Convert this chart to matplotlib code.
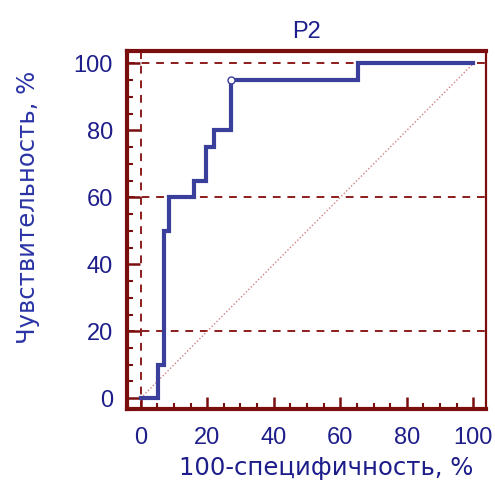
import matplotlib
matplotlib.use("Agg")
from matplotlib import pyplot as plt

# ROC curve points (100-specificity, sensitivity)
fpr = [0, 5.3, 5.3, 7.0, 7.0, 8.6, 8.6, 16.1, 16.1, 19.6, 19.6, 22.0, 22.0, 27.2, 27.2, 65.3, 65.3, 100]
tpr = [0, 0, 10, 10, 50, 50, 60, 60, 65, 65, 75, 75, 80, 80, 95, 95, 100, 100]
cut_x = [27.2]
cut_y = [95]
diag = [0, 100]
grid_y = [20, 60, 100]
grid_x = [0]
ticks = [0, 20, 40, 60, 80, 100]

frame_col = "#7a0e0e"
grid_col = "#8c1c1c"
line_col = "#3b3f9c"
text_col = "#1e1e8a"

plt.rcParams["font.family"] = ["Liberation Sans", "DejaVu Sans"]

fig = plt.figure(figsize=(4.95, 4.88), dpi=100)
ax = fig.add_axes([0.256, 0.162, 0.725, 0.734])

for g in grid_y:
    ax.axhline(g, color=grid_col, lw=1.4, linestyle=(0, (4, 3.5)), zorder=1)
for g in grid_x:
    ax.axvline(g, color=grid_col, lw=1.4, linestyle=(0, (4, 3.5)), zorder=1)

ax.plot(diag, diag, color="#d08080", lw=1.0, linestyle=(0, (1, 1.5)), zorder=2)
ax.plot(fpr, tpr, color=line_col, lw=3.0, solid_joinstyle="miter", zorder=3)
ax.plot(cut_x, cut_y, "o", ms=5, mfc="white", mec=line_col, mew=1.0, zorder=4)

ax.set_xlim(-4.2, 103.7)
ax.set_ylim(-3.2, 103.8)
ax.set_xticks(ticks)
ax.set_yticks(ticks)
ax.set_xticks(range(0, 101, 5), minor=True)
ax.set_yticks(range(0, 101, 5), minor=True)
ax.tick_params(which="both", direction="in", color=frame_col, labelcolor=text_col, labelsize=17)
ax.tick_params(which="major", length=9, width=1.8, pad=13)
ax.tick_params(which="minor", length=4, width=1.5)
ax.tick_params(axis="y", pad=10)

for side in ["left", "bottom", "top"]:
    ax.spines[side].set_linewidth(3)
    ax.spines[side].set_color(frame_col)
ax.spines["right"].set_linewidth(1.6)
ax.spines["right"].set_color(frame_col)

lab_font = ["DejaVu Sans"]
ax.set_title("P2", color=text_col, fontsize=17, pad=9)
ax.set_xlabel("100-специфичность, %", color=text_col, fontsize=17.5, family=lab_font, labelpad=5)
ax.set_ylabel("Чувствительность, %", color="#2a34a6", fontsize=17.5, family=lab_font, labelpad=24)
ax.xaxis.label.set_x(0.555)
ax.yaxis.label.set_y(0.562)

fig.savefig("out.png", dpi=100)
